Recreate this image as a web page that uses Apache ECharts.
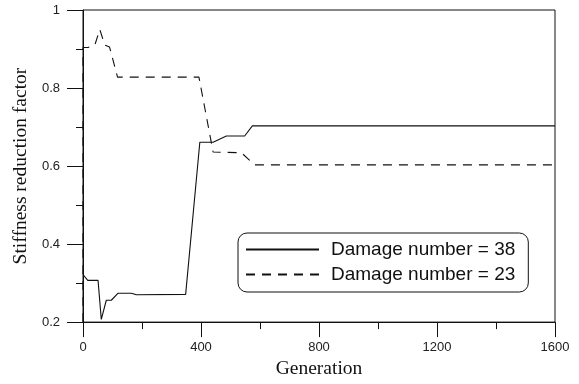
<!DOCTYPE html>
<html>
<head>
<meta charset="utf-8">
<script src="https://cdn.jsdelivr.net/npm/echarts@6/dist/echarts.min.js"></script>
<style>
html,body{margin:0;padding:0;background:#fff;}
#c{width:579px;height:384px;}
</style>
</head>
<body>
<div id="c"></div>
<script>
// Generation / stiffness reduction factor pairs
const genDamage38 = [0, 16, 51, 62, 79, 96, 119, 164, 181, 348, 396, 441, 486, 548, 574, 1600];
const valDamage38 = [0.322, 0.307, 0.307, 0.207, 0.256, 0.256, 0.274, 0.274, 0.270, 0.271, 0.661, 0.661, 0.677, 0.677, 0.703, 0.703];
const genDamage23 = [0, 0, 17, 40, 57, 74, 90, 117, 393, 441, 537, 582, 1600];
const valDamage23 = [0.2, 0.904, 0.904, 0.91, 0.95, 0.91, 0.905, 0.828, 0.828, 0.636, 0.634, 0.603, 0.603];
const seriesNames = ['Damage number = 38', 'Damage number = 23'];
const xTitle = 'Generation';
const yTitle = 'Stiffness reduction factor';

const pair = (xs, ys) => xs.map((x, i) => [x, ys[i]]);

const chart = echarts.init(document.getElementById('c'), null, {renderer: 'canvas'});
const tickFont = {fontFamily: 'Liberation Sans, Arial, sans-serif', fontSize: 13, color: '#222'};
const titleFont = {fontFamily: 'Liberation Serif, Times New Roman, serif', fontSize: 19.5, color: '#111'};

chart.setOption({
  animation: false,
  backgroundColor: '#fff',
  grid: {left: 83, right: 24, top: 10, bottom: 59, show: true, borderColor: '#111', borderWidth: 1, backgroundColor: 'transparent'},
  xAxis: {
    type: 'value', min: 0, max: 1600, interval: 400,
    name: xTitle, nameLocation: 'middle', nameGap: 33, nameTextStyle: titleFont,
    axisLine: {show: true, onZero: false, lineStyle: {color: '#111', width: 1}},
    axisTick: {show: true, inside: false, length: 15, lineStyle: {color: '#111'}},
    minorTick: {show: true, splitNumber: 2, length: 7, lineStyle: {color: '#111'}},
    axisLabel: Object.assign({margin: 19, formatter: v => String(v)}, tickFont),
    splitLine: {show: false}
  },
  yAxis: {
    type: 'value', min: 0.2, max: 1, interval: 0.2,
    name: yTitle, nameLocation: 'middle', nameGap: 52, nameTextStyle: titleFont,
    axisLine: {show: true, onZero: false, lineStyle: {color: '#111', width: 1}},
    axisTick: {show: true, inside: false, length: 16, lineStyle: {color: '#111'}},
    minorTick: {show: true, splitNumber: 2, length: 7, lineStyle: {color: '#111'}},
    axisLabel: Object.assign({margin: 23, formatter: v => String(+v.toFixed(1))}, tickFont),
    splitLine: {show: false}
  },
  legend: {
    orient: 'vertical', left: 238, top: 233,
    padding: [7, 13, 8, 7],
    borderColor: '#111', borderWidth: 1, borderRadius: 9,
    backgroundColor: '#fff',
    itemWidth: 73, itemHeight: 14, itemGap: 6,
    itemStyle: {opacity: 0},
    textStyle: {fontFamily: 'Liberation Sans, Arial, sans-serif', fontSize: 19, color: '#111', padding: [0, 0, 0, 7]},
    data: seriesNames
  },
  series: [
    {
      name: seriesNames[0], type: 'line', symbol: 'none', smooth: false,
      data: pair(genDamage38, valDamage38),
      lineStyle: {color: '#111', width: 1.1, type: 'solid'},
      itemStyle: {color: '#111'}
    },
    {
      name: seriesNames[1], type: 'line', symbol: 'none', smooth: false,
      data: pair(genDamage23, valDamage23),
      lineStyle: {color: '#111', width: 1.1, type: [9, 7]},
      itemStyle: {color: '#111'}
    }
  ]
});
</script>
</body>
</html>
